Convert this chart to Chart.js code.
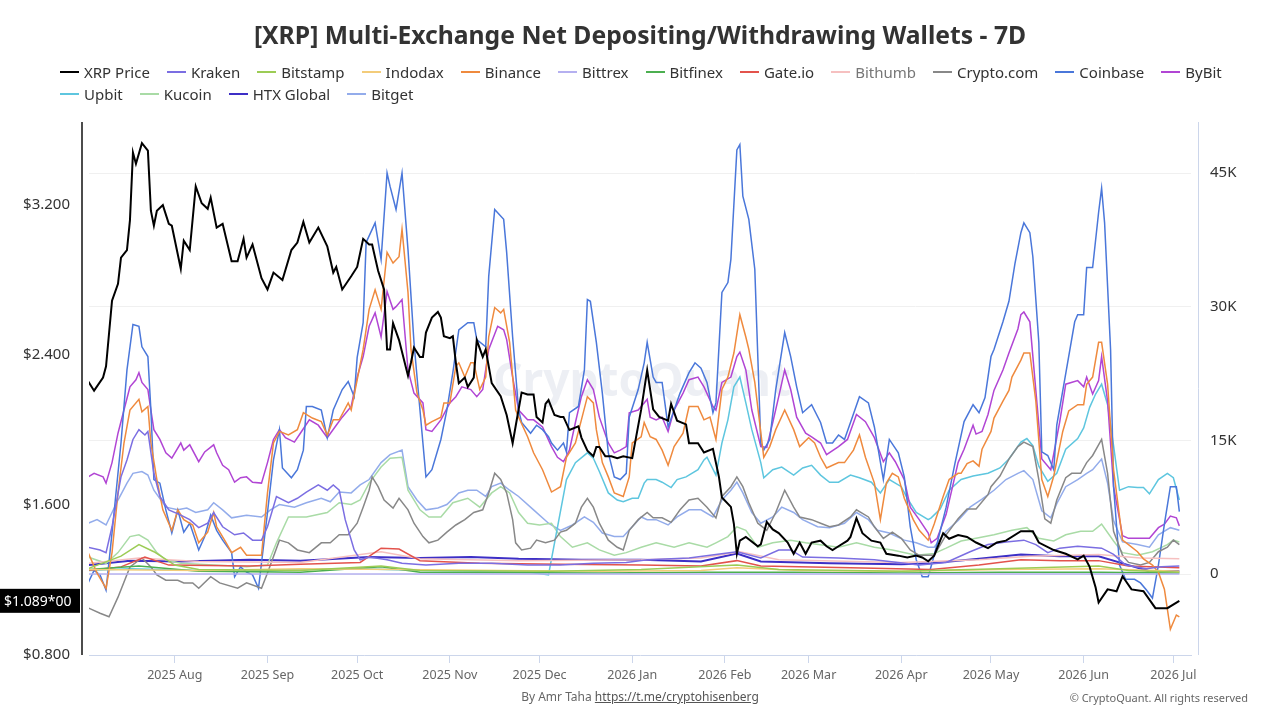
<!DOCTYPE html>
<html>
<head>
<meta charset="utf-8">
<title>[XRP] Multi-Exchange Net Depositing/Withdrawing Wallets - 7D</title>
<script src="https://cdn.jsdelivr.net/npm/chart.js@4.4.1/dist/chart.umd.min.js"></script>
<style>
    html, body { margin: 0; padding: 0; background: #fff; }
    body { width: 1280px; height: 720px; position: relative; overflow: hidden; font-family: 'Noto Sans', sans-serif; }
    #chartWrap { position: absolute; left: 0; top: 0; width: 1280px; height: 720px; }
    #legend { position: absolute; left: 60px; top: 61px; width: 1205px; display: flex; flex-wrap: wrap; }
    .legend-item { display: flex; align-items: center; height: 22px; margin-right: 17px; font-size: 15px; color: #333; white-space: nowrap; }
    .legend-line { width: 19px; height: 2px; margin-right: 5px; }
    #credit { position: absolute; top: 688px; left: 0; width: 1280px; text-align: center; font-size: 12px; color: #666; }
    #credit a { color: #555; text-decoration: underline; }
    #copyright { position: absolute; top: 690px; right: 32px; font-size: 11px; color: #666; }
</style>
</head>
<body>
<div id="chartWrap"><canvas id="walletChart"></canvas></div>
<div id="legend"></div>
<div id="credit">By Amr Taha <a href="https://t.me/cryptohisenberg">https://t.me/cryptohisenberg</a></div>
<div id="copyright">© CryptoQuant. All rights reserved</div>
<script>
// x values are days counted from 1 Jul 2025, wallet values are in thousands
const monthDays = [31, 62, 92, 123, 153, 184, 215, 243, 274, 304, 335, 365];
const monthLabels = ['2025 Aug', '2025 Sep', '2025 Oct', '2025 Nov', '2025 Dec', '2026 Jan', '2026 Feb', '2026 Mar', '2026 Apr', '2026 May', '2026 Jun', '2026 Jul'];
const priceTicks = [0.8, 1.6, 2.4, 3.2];
const walletTicks = [0, 15, 30, 45];

const xrpPrice = [[2,2.26],[4,2.21],[7,2.28],[8,2.34],[10,2.69],[12,2.78],[13,2.92],[15,2.96],[16,3.12],[17,3.48],[18,3.42],[20,3.53],[22,3.49],[23,3.17],[24,3.09],[25,3.17],[27,3.20],[29,3.10],[30,3.09],[33,2.86],[34,3.01],[36,2.96],[38,3.30],[40,3.21],[42,3.18],[43,3.24],[45,3.08],[47,3.10],[50,2.90],[52,2.90],[54,3.02],[55,2.92],[57,2.99],[60,2.81],[62,2.75],[64,2.84],[67,2.80],[70,2.96],[72,3.00],[74,3.11],[76,3.00],[79,3.08],[82,2.98],[84,2.84],[85,2.87],[87,2.75],[90,2.82],[92,2.87],[94,3.02],[96,2.99],[97,2.99],[99,2.85],[101,2.75],[102,2.43],[103,2.43],[104,2.57],[106,2.48],[109,2.29],[110,2.36],[111,2.44],[113,2.39],[114,2.39],[115,2.52],[117,2.60],[119,2.63],[120,2.60],[121,2.50],[123,2.49],[124,2.50],[125,2.36],[126,2.25],[128,2.28],[129,2.23],[131,2.28],[132,2.48],[134,2.39],[135,2.43],[137,2.25],[140,2.18],[142,2.08],[144,1.93],[145,2.02],[147,2.20],[149,2.19],[151,2.19],[152,2.07],[154,2.04],[155,2.14],[156,2.16],[158,2.08],[160,2.07],[161,2.07],[163,2.00],[166,2.02],[167,1.96],[169,1.89],[171,1.86],[172,1.91],[173,1.91],[175,1.86],[177,1.86],[179,1.85],[181,1.86],[184,1.85],[187,2.11],[189,2.32],[191,2.11],[193,2.07],[196,2.05],[197,2.14],[199,2.05],[202,2.03],[203,1.93],[206,1.93],[208,1.88],[211,1.90],[213,1.75],[214,1.64],[217,1.59],[218,1.50],[219,1.34],[220,1.41],[222,1.43],[226,1.38],[227,1.39],[229,1.51],[231,1.47],[233,1.45],[236,1.40],[238,1.34],[240,1.40],[242,1.34],[244,1.40],[247,1.41],[249,1.38],[251,1.36],[253,1.38],[256,1.41],[257,1.43],[259,1.53],[261,1.45],[264,1.41],[267,1.40],[269,1.34],[273,1.33],[276,1.32],[279,1.33],[281,1.32],[283,1.30],[285,1.33],[288,1.45],[290,1.42],[293,1.44],[296,1.43],[299,1.40],[303,1.37],[306,1.40],[309,1.41],[314,1.46],[318,1.46],[320,1.40],[325,1.36],[329,1.34],[333,1.31],[335,1.33],[337,1.27],[339,1.16],[340,1.08],[343,1.15],[346,1.14],[348,1.22],[351,1.15],[355,1.14],[359,1.05],[363,1.05],[367,1.089]];

const kraken = [[2,3.0],[6,2.7],[8,2.4],[10,5.3],[13,10.9],[15,12.8],[17,15.1],[19,16.2],[21,15.6],[22,16.0],[24,11.3],[26,8.7],[29,7.2],[33,6.6],[36,6.1],[39,5.2],[42,5.7],[44,6.9],[47,5.3],[51,4.4],[54,4.6],[57,3.8],[60,3.8],[62,5.3],[65,8.7],[69,8.0],[72,8.5],[75,9.2],[79,10.0],[82,9.4],[84,10.0],[86,9.4],[88,6.1],[91,2.7],[93,1.6],[96,1.9],[102,1.6],[107,1.2],[115,1.0],[126,1.2],[137,1.2],[149,1.0],[160,1.0],[171,1.2],[182,1.3],[189,1.6],[203,1.8],[219,2.5],[227,1.8],[233,2.7],[237,2.7],[241,1.9],[253,1.8],[265,1.6],[280,1.0],[289,1.3],[297,2.5],[303,3.3],[309,3.6],[315,3.8],[319,3.3],[323,2.4],[327,2.9],[333,3.1],[337,3.0],[341,2.9],[345,2.2],[349,1.0],[356,0.6],[361,0.8],[367,0.9]];

const bitstamp = [[2,0.6],[13,2.0],[19,3.3],[24,2.5],[31,1.0],[39,0.5],[73,0.4],[100,0.9],[113,0.4],[157,0.3],[187,0.5],[219,1.0],[233,0.5],[274,0.3],[307,0.6],[340,0.9],[350,0.4],[367,0.2]];

const indodax = [[2,0.5],[39,0.4],[73,0.6],[106,0.5],[140,0.4],[173,0.3],[207,0.4],[219,0.7],[240,0.4],[274,0.3],[307,0.5],[340,0.6],[367,0.3]];

const binance = [[2,2.4],[5,0.1],[8,-1.6],[10,2.4],[12,9.1],[14,14.7],[16,18.4],[19,19.6],[20,18.2],[22,18.8],[23,14.7],[25,10.6],[27,7.2],[30,4.9],[32,7.2],[34,6.1],[37,5.5],[39,3.5],[42,4.7],[44,6.9],[45,5.3],[48,3.6],[50,2.4],[53,3.0],[55,2.1],[58,2.1],[60,2.1],[62,9.1],[64,14.7],[66,16.0],[69,15.6],[72,16.2],[74,18.1],[77,17.5],[80,17.1],[82,15.6],[84,17.3],[86,17.3],[89,19.2],[90,18.4],[92,21.8],[94,25.2],[96,29.7],[98,31.9],[100,29.7],[102,36.1],[104,34.9],[106,35.6],[107,38.7],[109,31.6],[110,25.2],[112,20.3],[114,18.4],[115,16.7],[117,17.1],[120,17.6],[121,19.2],[123,19.2],[125,23.3],[126,23.7],[128,22.1],[130,23.7],[131,23.7],[133,20.7],[135,22.1],[136,26.6],[138,29.9],[140,29.3],[141,29.7],[143,26.0],[145,18.4],[146,17.6],[149,15.4],[151,13.6],[154,11.7],[157,9.2],[160,9.8],[162,13.1],[165,14.7],[167,17.3],[169,19.9],[171,19.2],[172,16.2],[174,12.5],[176,10.9],[178,9.1],[181,8.7],[183,10.9],[184,14.7],[187,15.4],[188,17.0],[190,15.4],[192,15.1],[194,13.9],[196,12.2],[198,14.3],[201,15.8],[203,18.8],[206,18.8],[208,17.3],[210,17.6],[212,15.1],[214,20.7],[216,22.1],[218,24.8],[220,29.1],[222,26.6],[223,25.2],[225,21.5],[228,13.1],[230,14.3],[232,16.2],[235,18.4],[238,16.2],[240,14.3],[243,15.3],[245,14.7],[247,13.1],[249,11.9],[253,12.5],[255,12.5],[258,13.9],[260,15.6],[262,13.1],[265,10.2],[267,6.1],[269,10.2],[271,11.3],[273,10.9],[275,8.5],[278,6.1],[280,4.9],[283,3.8],[285,5.6],[288,8.7],[290,10.6],[293,11.3],[294,11.3],[296,12.4],[298,12.7],[300,12.1],[301,14.0],[304,16.0],[305,17.5],[308,19.4],[310,20.6],[311,22.1],[314,24.0],[315,24.8],[317,24.8],[319,19.4],[321,10.6],[323,8.7],[325,11.0],[328,16.0],[330,18.3],[333,19.0],[335,19.0],[336,21.3],[338,22.1],[340,26.0],[341,26.0],[343,21.3],[345,11.7],[348,3.8],[350,3.3],[353,2.5],[355,1.7],[358,1.0],[360,0.2],[362,-1.7],[364,-6.2],[366,-4.6],[367,-4.8]];

const bittrex = [[2,0],[367,0]];

const bitfinex = [[2,0.5],[19,0.9],[39,0.3],[73,0.2],[100,0.8],[113,0.2],[173,0.1],[207,0.2],[240,0.2],[274,0.1],[307,0.2],[340,0.2],[367,0.1]];

const gateio = [[2,0.4],[13,0.8],[21,1.9],[29,1.0],[56,0.9],[73,1.1],[93,1.3],[100,2.9],[106,2.8],[113,1.5],[133,1.2],[160,1.1],[187,1.0],[207,0.9],[219,1.5],[227,0.9],[257,0.7],[284,0.5],[300,1.0],[314,1.6],[327,1.5],[340,1.5],[350,0.9],[367,0.7]];

const bithumb = [[2,1.2],[19,1.8],[39,1.4],[73,1.3],[100,2.5],[113,1.7],[146,1.5],[187,1.6],[207,1.8],[220,2.5],[233,1.6],[274,1.3],[300,1.6],[317,2.0],[340,2.2],[354,1.8],[367,1.7]];

const cryptoCom = [[2,-3.8],[6,-4.4],[9,-4.8],[12,-2.6],[16,0.8],[20,1.8],[23,0.8],[25,-0.1],[28,-0.7],[32,-0.7],[34,-1.0],[37,-1.0],[39,-1.6],[43,-0.3],[46,-1.0],[52,-1.6],[55,-1.0],[60,-1.6],[62,0.1],[66,3.8],[69,3.5],[72,2.7],[76,2.4],[80,3.5],[83,3.5],[86,4.4],[89,4.4],[92,5.7],[94,7.5],[96,9.4],[97,10.9],[99,9.8],[101,8.3],[104,7.4],[106,8.5],[109,7.2],[111,5.7],[114,4.2],[116,3.5],[119,3.8],[122,4.7],[125,5.5],[128,6.1],[131,6.9],[134,7.2],[136,9.1],[138,11.3],[140,10.6],[142,9.1],[144,6.1],[145,3.5],[147,2.7],[150,2.9],[152,3.8],[155,3.5],[158,3.8],[160,4.7],[162,4.9],[165,5.7],[167,7.5],[169,8.5],[171,7.5],[173,5.7],[176,3.8],[179,3.0],[181,2.7],[183,4.9],[186,6.1],[189,6.9],[191,6.3],[194,6.3],[197,5.8],[200,7.2],[203,8.3],[206,8.5],[209,7.5],[212,6.3],[214,8.7],[217,9.8],[219,10.9],[221,9.8],[223,8.0],[226,5.7],[229,4.9],[232,6.9],[235,9.4],[238,7.5],[240,6.4],[244,6.1],[247,5.7],[250,5.3],[253,5.5],[257,6.4],[259,7.2],[263,6.4],[265,5.3],[268,4.0],[271,4.7],[274,4.0],[277,2.7],[280,2.1],[285,2.1],[289,4.4],[293,6.2],[296,7.3],[299,7.3],[303,8.9],[304,9.8],[307,11.0],[310,12.9],[313,14.3],[315,14.8],[318,14.3],[320,10.6],[322,6.2],[324,5.7],[326,8.3],[329,10.8],[331,11.3],[334,11.3],[336,12.5],[338,13.3],[341,15.1],[343,11.3],[345,4.8],[348,2.1],[350,1.3],[354,1.0],[357,1.3],[360,2.5],[363,3.0],[365,3.8],[367,3.3]];

const coinbase = [[2,-1.0],[4,0.4],[6,-0.1],[8,-1.8],[10,4.6],[13,14.7],[15,22.9],[17,28.0],[19,27.8],[20,25.5],[22,24.4],[23,18.4],[24,10.6],[26,10.2],[28,7.2],[30,4.6],[32,7.2],[34,4.7],[36,5.7],[39,2.7],[41,4.2],[43,6.6],[45,4.9],[47,3.8],[50,2.4],[51,-0.3],[53,0.8],[55,0.2],[57,-0.1],[59,-1.6],[62,6.9],[64,12.8],[66,16.2],[67,11.9],[70,10.8],[72,11.7],[74,13.9],[75,18.8],[77,18.8],[80,18.4],[82,15.3],[84,18.4],[87,20.7],[89,21.6],[91,19.9],[92,24.3],[94,28.2],[95,37.2],[98,39.4],[100,35.3],[102,45.0],[103,43.5],[105,40.9],[107,45.0],[109,36.4],[111,26.0],[113,18.4],[115,10.9],[117,11.7],[120,15.1],[122,18.4],[124,22.6],[126,27.4],[129,28.2],[131,28.2],[132,26.3],[135,25.5],[136,33.4],[138,40.9],[141,39.8],[142,36.1],[144,26.6],[146,18.4],[147,17.0],[150,15.8],[152,16.7],[154,16.2],[156,15.4],[157,14.7],[159,13.9],[161,14.7],[162,13.7],[163,18.1],[166,18.8],[168,22.9],[169,30.8],[170,30.6],[172,26.0],[174,20.3],[176,13.6],[178,10.9],[180,10.6],[182,11.3],[183,17.6],[186,20.7],[188,23.7],[189,26.0],[191,22.1],[192,21.5],[194,21.5],[196,16.5],[198,18.4],[200,20.3],[203,22.6],[205,23.7],[207,23.1],[209,21.5],[211,18.1],[212,19.2],[214,31.6],[216,32.7],[217,35.3],[219,47.6],[220,48.2],[221,42.4],[223,39.8],[225,34.2],[227,14.7],[228,13.9],[230,15.1],[232,20.7],[235,27.1],[237,24.4],[239,21.0],[241,18.1],[244,19.0],[247,17.0],[249,14.7],[251,14.7],[253,15.6],[255,15.1],[257,17.0],[260,19.9],[263,19.2],[265,16.5],[268,10.6],[269,12.8],[270,15.1],[273,13.6],[275,10.9],[277,5.3],[279,1.6],[281,-0.3],[283,-0.3],[285,2.1],[289,7.5],[292,12.5],[295,17.1],[298,19.0],[300,18.1],[302,19.8],[304,24.4],[305,25.2],[308,28.3],[310,30.6],[312,34.8],[314,38.3],[315,39.4],[317,38.3],[318,35.6],[320,26.0],[321,13.7],[323,13.3],[325,11.7],[326,16.7],[329,22.5],[332,28.3],[333,29.1],[335,29.1],[336,34.4],[338,34.4],[340,40.6],[341,43.3],[342,39.4],[344,25.2],[345,9.8],[347,1.0],[349,-0.6],[352,-0.6],[354,-1.0],[356,-1.8],[358,-2.7],[360,1.0],[362,5.6],[364,9.8],[366,9.8],[367,7.0]];

const bybit = [[2,10.9],[4,11.3],[7,10.9],[8,10.2],[10,12.5],[12,15.8],[14,18.4],[16,21.0],[18,21.8],[19,22.6],[20,21.5],[22,20.7],[23,18.4],[24,16.2],[26,15.1],[28,13.6],[30,13.0],[33,14.7],[34,13.9],[36,14.5],[39,12.6],[41,13.7],[44,14.5],[45,13.6],[47,12.2],[49,11.7],[51,10.3],[53,10.8],[55,10.9],[57,10.3],[60,10.2],[62,12.5],[64,15.1],[66,16.2],[68,15.3],[71,14.8],[73,15.8],[76,17.3],[79,16.7],[82,15.3],[85,16.7],[87,17.6],[90,18.8],[92,22.1],[94,24.4],[96,27.8],[98,29.3],[100,26.6],[102,31.7],[104,29.7],[105,30.0],[107,30.8],[109,22.9],[111,20.3],[114,19.2],[115,16.2],[117,16.0],[120,17.3],[123,19.2],[125,19.9],[127,21.0],[130,20.7],[132,19.9],[134,20.7],[136,25.2],[139,27.8],[141,27.4],[142,26.3],[144,22.1],[146,18.4],[149,17.3],[151,17.3],[154,16.5],[157,14.3],[159,13.1],[161,12.6],[163,13.9],[165,17.0],[167,19.9],[169,21.8],[171,20.7],[173,17.6],[176,14.7],[178,13.6],[180,13.9],[182,14.3],[183,18.1],[186,18.4],[188,19.2],[189,19.6],[190,17.6],[192,17.3],[194,17.6],[196,16.0],[198,18.4],[201,20.3],[203,21.8],[206,22.1],[208,21.0],[211,18.8],[212,18.4],[214,21.5],[217,22.1],[219,24.4],[220,24.9],[222,22.9],[224,18.4],[227,14.3],[229,14.2],[231,17.0],[233,19.9],[235,22.9],[237,20.7],[239,17.6],[242,15.8],[244,15.4],[247,14.7],[249,13.4],[253,14.3],[256,15.1],[259,17.9],[262,17.1],[265,15.3],[268,12.6],[270,13.6],[272,12.6],[275,10.6],[277,7.5],[280,6.1],[283,4.6],[284,3.5],[286,4.0],[289,6.7],[293,12.5],[295,14.0],[298,16.7],[299,15.7],[301,16.0],[303,17.9],[305,20.6],[308,22.9],[310,24.8],[313,27.5],[314,29.1],[315,29.4],[317,28.3],[319,20.6],[321,12.9],[324,11.7],[327,17.1],[329,21.3],[333,21.7],[335,21.0],[336,22.1],[338,20.2],[340,21.7],[341,24.4],[343,19.4],[345,9.8],[348,4.3],[350,4.0],[353,4.0],[355,4.0],[357,4.0],[360,5.2],[362,5.6],[364,6.5],[366,6.3],[367,5.4]];

const upbit = [[2,0.4],[16,0.6],[39,0.4],[60,0.3],[73,0.5],[93,0.6],[113,0.4],[133,0.3],[150,0.2],[156,-0.1],[162,10.6],[165,12.5],[169,13.6],[171,13.0],[173,11.5],[176,9.1],[179,8.3],[181,8.1],[184,8.5],[186,8.5],[188,10.2],[189,10.6],[192,10.6],[194,10.3],[197,9.7],[199,10.6],[202,10.9],[206,11.7],[208,12.8],[209,13.1],[212,11.1],[214,14.7],[216,17.3],[218,21.0],[220,22.1],[222,19.2],[224,16.2],[227,12.5],[228,10.8],[231,11.7],[234,12.0],[238,11.1],[241,11.9],[244,12.2],[247,11.1],[250,10.3],[253,10.3],[257,11.1],[260,10.8],[264,10.3],[267,9.1],[270,10.6],[274,9.8],[276,8.5],[279,6.9],[283,6.1],[284,6.3],[287,7.3],[290,9.4],[294,10.6],[298,11.0],[303,11.3],[307,11.9],[310,12.9],[314,14.8],[316,15.2],[318,14.4],[320,12.1],[323,10.4],[326,11.3],[329,14.0],[333,15.2],[335,16.4],[337,18.7],[339,20.2],[341,21.3],[343,19.0],[345,14.4],[347,9.4],[350,9.8],[353,9.7],[355,9.7],[357,9.0],[360,10.6],[363,11.3],[365,10.8],[367,8.3]];

const kucoin = [[2,1.9],[8,1.2],[12,2.4],[16,4.2],[19,4.4],[22,3.8],[25,2.4],[28,1.6],[33,1.2],[44,1.0],[55,0.8],[62,1.0],[65,3.5],[69,6.4],[75,6.4],[82,6.9],[86,8.0],[90,7.8],[93,8.3],[96,10.2],[100,12.0],[103,13.0],[107,13.1],[109,9.4],[113,7.2],[116,6.4],[120,6.4],[124,8.0],[129,8.5],[133,7.5],[137,9.1],[140,9.8],[143,9.1],[146,6.9],[149,5.7],[153,5.5],[157,5.7],[160,4.2],[164,3.0],[169,3.5],[173,2.7],[178,2.1],[182,2.4],[187,3.0],[192,3.5],[198,3.0],[203,3.5],[209,3.0],[212,3.5],[216,4.2],[219,5.3],[222,4.9],[226,3.0],[231,3.5],[237,3.8],[242,3.5],[253,3.0],[259,3.5],[265,3.0],[271,2.7],[279,2.1],[285,2.3],[289,2.9],[294,3.7],[299,4.0],[305,4.4],[311,4.9],[316,5.2],[320,4.0],[325,3.7],[329,4.4],[334,4.8],[338,4.8],[341,5.6],[345,3.7],[348,2.4],[353,2.1],[358,2.5],[363,3.3],[365,3.8],[367,3.6]];

const htxGlobal = [[2,1.0],[16,1.5],[33,1.4],[56,1.6],[73,1.5],[96,1.9],[113,1.8],[130,1.9],[146,1.7],[167,1.6],[187,1.6],[207,1.4],[219,2.3],[227,1.4],[250,1.2],[274,1.1],[284,1.2],[300,1.7],[314,2.2],[327,2.0],[340,2.0],[350,1.0],[357,0.3],[367,0.3]];

const bitget = [[2,5.7],[5,6.1],[8,5.5],[12,8.3],[15,10.2],[17,11.3],[20,11.5],[22,11.1],[24,9.4],[28,7.5],[32,7.2],[35,7.4],[38,6.9],[42,7.2],[44,8.0],[47,7.2],[50,6.3],[55,6.6],[60,6.4],[63,7.2],[66,7.8],[71,7.5],[75,8.0],[80,8.5],[83,8.1],[86,9.2],[90,9.1],[93,10.0],[96,10.6],[100,12.5],[103,13.4],[107,13.9],[109,9.8],[112,8.3],[115,7.2],[119,7.4],[122,7.8],[126,9.1],[129,9.4],[132,9.4],[135,8.7],[137,9.8],[140,10.2],[143,9.4],[146,8.7],[151,7.2],[156,5.7],[160,4.9],[164,5.5],[168,6.4],[171,5.8],[174,4.6],[178,4.2],[181,4.2],[184,5.3],[187,6.4],[189,6.1],[192,6.1],[196,5.5],[199,6.4],[203,7.2],[207,7.2],[211,6.4],[214,8.3],[217,9.4],[219,10.3],[221,9.1],[224,6.9],[227,5.7],[231,6.4],[234,7.5],[238,6.9],[241,6.1],[246,5.3],[250,5.2],[255,5.7],[259,6.9],[263,6.1],[266,4.9],[270,4.6],[275,3.8],[279,3.5],[283,3.0],[285,3.0],[289,4.8],[293,6.0],[297,7.5],[301,8.4],[305,9.4],[309,10.6],[313,11.3],[315,11.6],[318,10.6],[321,7.1],[324,6.3],[326,7.9],[329,9.8],[333,10.6],[336,11.3],[338,11.7],[341,12.9],[343,10.2],[345,6.0],[348,3.6],[353,3.3],[357,3.0],[360,4.4],[364,5.2],[367,4.9]];

// Series in legend order (first one is drawn on top)
const seriesList = [
    { label: 'XRP Price', data: xrpPrice, color: '#000000', axis: 'yPrice', width: 2 },
    { label: 'Kraken', data: kraken, color: '#7b6ee2', axis: 'yWallets', width: 1.5 },
    { label: 'Bitstamp', data: bitstamp, color: '#9ccc55', axis: 'yWallets', width: 1.5 },
    { label: 'Indodax', data: indodax, color: '#f3cc7a', axis: 'yWallets', width: 1.5 },
    { label: 'Binance', data: binance, color: '#ef8a3e', axis: 'yWallets', width: 1.5 },
    { label: 'Bittrex', data: bittrex, color: '#b5b0f0', axis: 'yWallets', width: 1.5 },
    { label: 'Bitfinex', data: bitfinex, color: '#4caf50', axis: 'yWallets', width: 1.5 },
    { label: 'Gate.io', data: gateio, color: '#e3534c', axis: 'yWallets', width: 1.5 },
    { label: 'Bithumb', data: bithumb, color: '#f6c0c0', axis: 'yWallets', width: 1.5 },
    { label: 'Crypto.com', data: cryptoCom, color: '#888888', axis: 'yWallets', width: 1.5 },
    { label: 'Coinbase', data: coinbase, color: '#4a77da', axis: 'yWallets', width: 1.5 },
    { label: 'ByBit', data: bybit, color: '#b145d4', axis: 'yWallets', width: 1.5 },
    { label: 'Upbit', data: upbit, color: '#5ec6df', axis: 'yWallets', width: 1.5 },
    { label: 'Kucoin', data: kucoin, color: '#a9dba6', axis: 'yWallets', width: 1.5 },
    { label: 'HTX Global', data: htxGlobal, color: '#3d2fc6', axis: 'yWallets', width: 2 },
    { label: 'Bitget', data: bitget, color: '#93aceb', axis: 'yWallets', width: 1.5 }
];

const fontFamily = "'Noto Sans', sans-serif";
Chart.defaults.font.family = fontFamily;

// Build html legend (Chart.js legend can't set row gap and item gap separately)
function renderLegend() {
    const legend = document.getElementById("legend");
    seriesList.forEach((s) => {
        const item = document.createElement("div");
        item.className = "legend-item";
        item.innerHTML = `<span class="legend-line" style="background:${s.color}"></span><span>${s.label}</span>`;
        if (s.label === 'Bithumb') item.style.color = '#777';
        legend.appendChild(item);
    });
}

// Watermark, offset axis lines and last price tag
const decorPlugin = {
    id: 'decor',
    beforeDatasetsDraw(chart) {
        const { ctx, chartArea } = chart;
        ctx.save();
        ctx.fillStyle = 'rgba(185, 190, 210, 0.25)';
        ctx.font = `bold 46px ${fontFamily}`;
        ctx.textAlign = 'center';
        ctx.textBaseline = 'middle';
        ctx.fillText('CryptoQuant', (chartArea.left + chartArea.right) / 2 + 2, 383);
        ctx.restore();
    },
    afterDraw(chart) {
        const { ctx, chartArea } = chart;
        ctx.save();
        ctx.lineWidth = 1.5;
        ctx.strokeStyle = '#111';
        ctx.beginPath();
        ctx.moveTo(chartArea.left - 7, chartArea.top);
        ctx.lineTo(chartArea.left - 7, chartArea.bottom);
        ctx.stroke();
        ctx.lineWidth = 1;
        ctx.strokeStyle = '#ccd6eb';
        ctx.beginPath();
        ctx.moveTo(chartArea.right + 7.5, chartArea.top);
        ctx.lineTo(chartArea.right + 7.5, chartArea.bottom);
        ctx.stroke();

        const last = xrpPrice[xrpPrice.length - 1][1];
        const y = chart.scales.yPrice.getPixelForValue(last);
        ctx.fillStyle = '#000';
        ctx.fillRect(0, y - 12, 80, 24);
        ctx.fillStyle = '#fff';
        ctx.font = `14px ${fontFamily}`;
        ctx.textBaseline = 'middle';
        ctx.textAlign = 'left';
        ctx.fillText('$' + last.toFixed(3) + '*00', 4, y + 1);
        ctx.restore();
    }
};

function buildChart() {
    const ctx = document.getElementById("walletChart").getContext("2d");
    return new Chart(ctx, {
        type: 'line',
        data: {
            datasets: seriesList.map((s) => ({
                label: s.label,
                data: s.data.map(([x, y]) => ({ x, y })),
                borderColor: s.color,
                backgroundColor: s.color,
                borderWidth: s.width,
                yAxisID: s.axis,
                pointRadius: 0,
                tension: 0,
                fill: false
            }))
        },
        options: {
            responsive: true,
            maintainAspectRatio: false,
            animation: false,
            layout: { padding: 0 },
            plugins: {
                legend: { display: false },
                tooltip: { enabled: false },
                title: {
                    display: true,
                    text: '[XRP] Multi-Exchange Net Depositing/Withdrawing Wallets - 7D',
                    color: '#333',
                    font: { size: 24.7, weight: 'bold' },
                    padding: { top: 22, bottom: 70.4 }
                }
            },
            scales: {
                x: {
                    type: 'linear',
                    min: 2.3,
                    max: 370.9,
                    afterBuildTicks: (scale) => { scale.ticks = monthDays.map((v) => ({ value: v })); },
                    afterFit: (scale) => { scale.height = 65; },
                    ticks: {
                        callback: (value, index) => monthLabels[index],
                        color: '#666',
                        font: { size: 12.5 },
                        padding: 5,
                        maxRotation: 0,
                        autoSkip: false
                    },
                    grid: { drawOnChartArea: false, drawTicks: true, tickLength: 8, color: '#ccd6eb' },
                    border: { display: true, color: '#ccd6eb' }
                },
                yPrice: {
                    position: 'left',
                    min: 0.8,
                    max: 3.643,
                    afterBuildTicks: (scale) => { scale.ticks = priceTicks.map((v) => ({ value: v })); },
                    afterFit: (scale) => { scale.width = 89; },
                    ticks: {
                        callback: (value) => '$' + value.toFixed(3),
                        color: '#333',
                        font: { size: 15 },
                        padding: 19
                    },
                    grid: { display: false, drawTicks: false },
                    border: { display: false }
                },
                yWallets: {
                    position: 'right',
                    min: -9.09,
                    max: 50.72,
                    afterBuildTicks: (scale) => { scale.ticks = walletTicks.map((v) => ({ value: v })); },
                    afterFit: (scale) => { scale.width = 89; },
                    ticks: {
                        callback: (value) => value === 0 ? '0' : value + 'K',
                        color: '#333',
                        font: { size: 15 },
                        padding: 19
                    },
                    grid: { color: '#f0f0f0', drawTicks: false },
                    border: { display: false }
                }
            }
        },
        plugins: [decorPlugin]
    });
}

renderLegend();
buildChart();
</script>
</body>
</html>
